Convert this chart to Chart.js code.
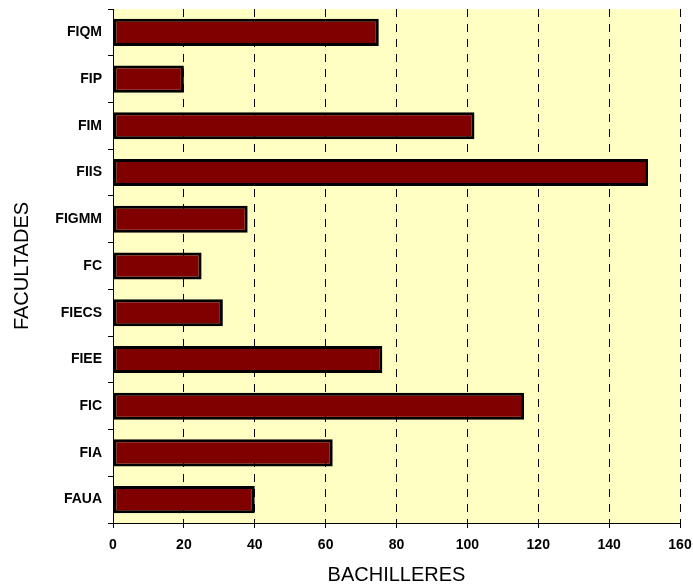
<!DOCTYPE html>
<html>
<head>
<meta charset="utf-8">
<script src="https://cdn.jsdelivr.net/npm/chart.js@4/dist/chart.umd.min.js"></script>
<style>
  html, body { margin: 0; padding: 0; background: #fff; }
  #wrap { width: 693px; height: 587px; }
</style>
</head>
<body>
<div id="wrap"><canvas id="myChart" width="693" height="587"></canvas></div>
<script>
const facultades = ["FIQM", "FIP", "FIM", "FIIS", "FIGMM", "FC", "FIECS", "FIEE", "FIC", "FIA", "FAUA"];
const bachilleres = [75, 20, 102, 151, 38, 25, 31, 76, 116, 62, 40];
const xTicks = [0, 20, 40, 60, 80, 100, 120, 140, 160];

// fondo amarillo del area de trazado
const plotBg = {
  id: "plotBg",
  beforeDraw(chart) {
    const { ctx, chartArea: a } = chart;
    ctx.save();
    ctx.fillStyle = "#FFFFC4";
    ctx.fillRect(a.left, a.top, a.right - a.left, a.bottom - a.top);
    ctx.restore();
  }
};

const map = document.getElementById("myChart");
new Chart(map, {
  type: "bar",
  data: {
    labels: facultades,
    datasets: [{
      data: bachilleres,
      backgroundColor: "#800000",
      borderColor: "#000000",
      borderWidth: 3,
      borderSkipped: false,
      barPercentage: 0.58,
      categoryPercentage: 1
    }]
  },
  options: {
    indexAxis: "y",
    responsive: false,
    animation: false,
    layout: { padding: { top: 9, right: 13, left: 0, bottom: 0 } },
    plugins: { legend: { display: false }, tooltip: { enabled: false } },
    scales: {
      x: {
        min: 0,
        max: 160,
        afterBuildTicks: (s) => { s.ticks = xTicks.map(v => ({ value: v })); },
        afterFit: (s) => {
          s.height = 64;
          s.paddingLeft = 0;
          s.paddingRight = 0;
        },
        grid: {
          color: "#000000",
          lineWidth: 1,
          tickLength: 5,
          tickBorderDash: [],
          borderDash: [8, 7]
        },
        border: { display: true, color: "#000000", width: 1, dash: [8, 7] },
        ticks: {
          color: "#000000",
          padding: 9,
          font: { family: "Liberation Sans, Arial", size: 14, weight: "bold" }
        },
        title: {
          display: true,
          text: "BACHILLERES",
          color: "#000000",
          padding: { top: 0, bottom: 0 },
          font: { family: "Liberation Sans, Arial", size: 20 }
        }
      },
      y: {
        afterFit: (s) => {
          s.width = 113;
          s.paddingTop = 0;
          s.paddingBottom = 0;
        },
        grid: {
          offset: true,
          drawOnChartArea: false,
          color: "#000000",
          tickLength: 5
        },
        border: { display: true, color: "#000000", width: 1 },
        ticks: {
          color: "#000000",
          padding: 6,
          font: { family: "Liberation Sans, Arial", size: 14, weight: "bold" }
        },
        title: {
          display: true,
          text: "FACULTADES",
          color: "#000000",
          padding: { top: 10, bottom: 10 },
          font: { family: "Liberation Sans, Arial", size: 20 }
        }
      }
    }
  },
  plugins: [plotBg]
});
</script>
</body>
</html>
